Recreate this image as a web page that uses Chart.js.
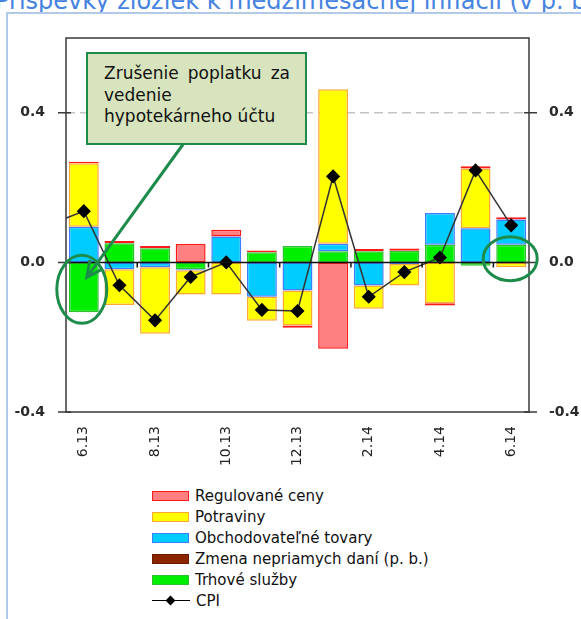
<!DOCTYPE html>
<html>
<head>
<meta charset="utf-8">
<script src="https://cdn.jsdelivr.net/npm/chart.js@4.4.1/dist/chart.umd.min.js"></script>
<style>
  html, body { margin: 0; padding: 0; background: #fff; }
  body { width: 581px; height: 619px; position: relative; overflow: hidden; font-family: "DejaVu Sans", sans-serif; }
  #title { position: absolute; left: -5px; top: -11px; font-size: 24px; line-height: 24px; color: #4683e0; white-space: nowrap; }
  #frame { position: absolute; left: 6px; top: 12px; width: 600px; height: 640px; border-left: 2px solid #b3c9ea; border-top: 2px solid #b3c9ea; }
  #wrap { position: absolute; left: 0; top: 0; width: 581px; height: 470px; }
  #note { position: absolute; left: 86px; top: 52px; width: 186px; height: 80px; padding: 9px 15px 0 16px; box-sizing: content-box;
          background: #d7e4bd; border: 2px solid #1d8c4a; font-size: 17px; line-height: 21.5px; color: #111; }
  #note .j { text-align: justify; text-align-last: justify; }
  #legend { position: absolute; left: 152px; top: 485px; font-size: 15px; color: #111; }
  .row { height: 21px; display: flex; align-items: center; white-space: nowrap; }
  .sw { width: 35px; height: 8px; margin-right: 6px; border: 1.5px solid; }
  .ln { width: 38px; height: 10px; margin-right: 6px; position: relative; }
  .ln::before { content: ""; position: absolute; left: 0; right: 0; top: 4px; border-top: 1.5px solid #000; }
  .ln::after { content: ""; position: absolute; left: 15px; top: 1px; width: 7px; height: 7px; background: #000; transform: rotate(45deg); }
</style>
</head>
<body>
<div id="title">Príspevky zložiek k medzimesačnej inflácii (v p. b.)</div>
<div id="frame"></div>
<div id="wrap"><canvas id="chart"></canvas></div>
<div id="note"><div class="j">Zrušenie poplatku za</div><div>vedenie</div><div>hypotekárneho účtu</div></div>
<div id="legend"></div>
<script>
// months; 5.13 is only there so the CPI line runs in from the left edge
const categories = ['5.13', '6.13', '7.13', '8.13', '9.13', '10.13', '11.13', '12.13', '1.14', '2.14', '3.14', '4.14', '5.14', '6.14'];

// contributions in p. b.
const trhoveSluzby   = [null, -0.133, 0.051, 0.038, -0.018, 0, 0.027, 0.044, 0.030, 0.030, 0.031, 0.047, -0.009, 0.047];
const neprDane       = [null, 0, 0, 0, 0, 0, 0, 0, 0, 0, 0, 0, 0, 0];
const obchTovary     = [null, 0.095, -0.018, -0.013, -0.003, 0.069, -0.092, -0.075, 0.020, -0.062, -0.004, 0.085, 0.091, 0.068];
const potraviny      = [null, 0.170, -0.096, -0.178, -0.065, -0.086, -0.064, -0.094, 0.413, -0.062, -0.058, -0.109, 0.160, -0.013];
const regulovaneCeny = [null, 0.004, 0.006, 0.006, 0.049, 0.018, 0.005, -0.006, -0.231, 0.006, 0.006, -0.006, 0.006, 0.006];
const cpi            = [0.10, 0.137, -0.061, -0.155, -0.039, 0.0, -0.127, -0.130, 0.230, -0.092, -0.026, 0.013, 0.246, 0.099];

const yTicks = [-0.4, 0, 0.4];

const SERIES = [
  { label: 'Regulované ceny', data: regulovaneCeny, fill: '#ff8080', line: '#ff1a1a' },
  { label: 'Potraviny', data: potraviny, fill: '#ffff00', line: '#ffa733' },
  { label: 'Obchodovateľné tovary', data: obchTovary, fill: '#00ccff', line: '#3d7dff' },
  { label: 'Zmena nepriamych daní (p. b.)', data: neprDane, fill: '#8b2500', line: '#6b1a00' },
  { label: 'Trhové služby', data: trhoveSluzby, fill: '#00ee00', line: '#2fbf2f' }
];

// stacking from zero outwards: services, taxes, tradables, food, regulated
const stackOrder = [4, 3, 2, 1, 0];

Chart.defaults.font.family = '"DejaVu Sans", sans-serif';
Chart.defaults.animation = false;

const decor = {
  id: 'decor',
  beforeDatasetsDraw(chart) {
    const { ctx, chartArea: a, scales: { y } } = chart;
    ctx.save();
    ctx.strokeStyle = '#c4c4c4';
    ctx.lineWidth = 1.5;
    ctx.setLineDash([9, 5]);
    const py = y.getPixelForValue(0.4);
    ctx.beginPath();
    ctx.moveTo(a.left, py);
    ctx.lineTo(a.right, py);
    ctx.stroke();
    ctx.restore();
  },
  afterDatasetsDraw(chart) {
    const { ctx, chartArea: a, scales: { x, y } } = chart;
    ctx.save();
    // zero line
    const y0 = y.getPixelForValue(0);
    ctx.strokeStyle = '#111';
    ctx.lineWidth = 1.5;
    ctx.beginPath();
    ctx.moveTo(a.left, y0);
    ctx.lineTo(a.right, y0);
    // small ticks on zero line between months
    for (let i = 2.5; i < categories.length; i += 2) {
      const px = x.getPixelForValue(i);
      ctx.moveTo(px, y0);
      ctx.lineTo(px, y0 + 5);
    }
    ctx.stroke();

    // frame
    ctx.strokeStyle = '#3a3a3a';
    ctx.lineWidth = 1.5;
    ctx.strokeRect(a.left, a.top, a.right - a.left, a.bottom - a.top);

    // y ticks crossing both axes
    ctx.beginPath();
    for (const v of yTicks) {
      const py = y.getPixelForValue(v);
      ctx.moveTo(a.left - 8, py);
      ctx.lineTo(a.left + 5, py);
      ctx.moveTo(a.right - 5, py);
      ctx.lineTo(a.right + 8, py);
    }
    ctx.stroke();

    // callouts
    ctx.strokeStyle = '#1d8c4a';
    ctx.lineWidth = 3;
    ctx.beginPath();
    ctx.ellipse(x.getPixelForValue(1) - 2, y.getPixelForValue(-0.072), 25, 34, 0, 0, Math.PI * 2);
    ctx.stroke();
    ctx.beginPath();
    ctx.ellipse(x.getPixelForValue(13) - 1, y.getPixelForValue(0.01), 27, 22, 0, 0, Math.PI * 2);
    ctx.stroke();

    const sx = 184, sy = 143;
    const tx = x.getPixelForValue(1) + 3, ty = y.getPixelForValue(-0.04);
    ctx.beginPath();
    ctx.moveTo(sx, sy);
    ctx.lineTo(tx, ty);
    const ang = Math.atan2(ty - sy, tx - sx);
    const len = 18, spread = 0.45;
    ctx.moveTo(tx - len * Math.cos(ang - spread), ty - len * Math.sin(ang - spread));
    ctx.lineTo(tx, ty);
    ctx.lineTo(tx - len * Math.cos(ang + spread), ty - len * Math.sin(ang + spread));
    ctx.stroke();
    ctx.restore();
  }
};

const datasets = [{
  type: 'line',
  label: 'CPI',
  data: cpi,
  stack: 'cpi',
  order: 0,
  borderColor: '#333',
  borderWidth: 1.5,
  pointStyle: 'rectRot',
  pointRadius: 6,
  pointBackgroundColor: '#000',
  pointBorderColor: '#000',
  tension: 0,
  clip: 0
}];
stackOrder.forEach((k) => {
  const s = SERIES[k];
  datasets.push({
    type: 'bar',
    label: s.label,
    data: s.data,
    stack: 'parts',
    order: 1,
    backgroundColor: s.fill,
    borderColor: s.line,
    borderWidth: 1.5,
    borderSkipped: false,
    categoryPercentage: 1,
    barPercentage: 0.84
  });
});

const tickFont = { size: 14, weight: 'bold' };

new Chart(document.getElementById('chart'), {
  type: 'bar',
  data: { labels: categories, datasets },
  plugins: [decor],
  options: {
    responsive: true,
    maintainAspectRatio: false,
    layout: { padding: { top: 38, left: 0, right: 0, bottom: 0 } },
    plugins: { legend: { display: false }, tooltip: { enabled: false } },
    scales: {
      x: {
        type: 'category',
        min: '6.13',
        max: '6.14',
        stacked: true,
        grid: { display: true, drawOnChartArea: false, drawTicks: false },
        border: { display: false },
        afterFit(s) { s.height = 58; },
        ticks: {
          autoSkip: false,
          minRotation: 90,
          maxRotation: 90,
          padding: 14,
          color: '#222',
          font: { size: 14 },
          callback(value) { return value % 2 === 1 ? this.getLabelForValue(value) : ''; }
        }
      },
      y: {
        position: 'left',
        stacked: true,
        min: -0.4,
        max: 0.6,
        grid: { display: false, drawTicks: false },
        border: { display: false },
        afterFit(s) { s.width = 66; },
        afterBuildTicks(s) { s.ticks = yTicks.map((v) => ({ value: v })); },
        ticks: { padding: 21, color: '#2a2a2a', font: tickFont, callback: (v) => Number(v).toFixed(1) }
      },
      y2: {
        position: 'right',
        display: true,
        min: -0.4,
        max: 0.6,
        grid: { display: false, drawTicks: false },
        border: { display: false },
        afterFit(s) { s.width = 52; },
        afterBuildTicks(s) { s.ticks = yTicks.map((v) => ({ value: v })); },
        ticks: { padding: 20, color: '#2a2a2a', font: tickFont, callback: (v) => Number(v).toFixed(1) }
      }
    }
  }
});

// legend in the original order
const legend = document.getElementById('legend');
SERIES.forEach((s) => {
  const row = document.createElement('div');
  row.className = 'row';
  const sw = document.createElement('span');
  sw.className = 'sw';
  sw.style.background = s.fill;
  sw.style.borderColor = s.line;
  row.appendChild(sw);
  row.appendChild(document.createTextNode(s.label));
  legend.appendChild(row);
});
const cpiRow = document.createElement('div');
cpiRow.className = 'row';
const ln = document.createElement('span');
ln.className = 'ln';
cpiRow.appendChild(ln);
cpiRow.appendChild(document.createTextNode('CPI'));
legend.appendChild(cpiRow);
</script>
</body>
</html>
